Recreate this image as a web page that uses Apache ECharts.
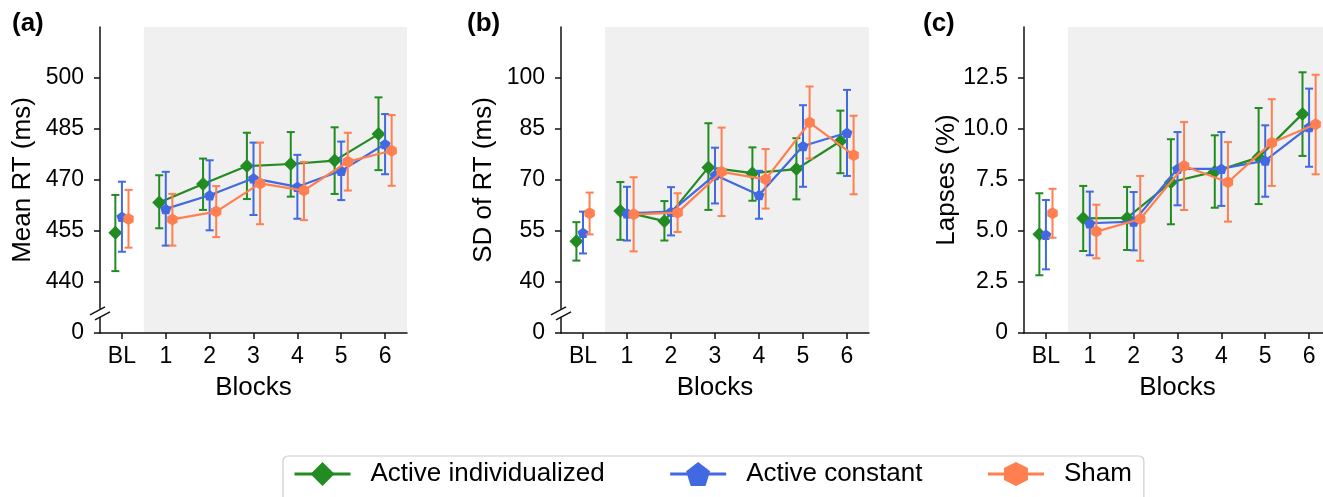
<!DOCTYPE html>
<html>
<head>
<meta charset="utf-8">
<script src="https://cdn.jsdelivr.net/npm/echarts@6/dist/echarts.min.js"></script>
<style>
  html, body { margin: 0; padding: 0; background: #fff; }
  #chart { width: 1323px; height: 497px; }
</style>
</head>
<body>
<div id="chart"></div>
<script>
var blocks = ['BL', '1', '2', '3', '4', '5', '6'];
var groupNames = ['Active individualized', 'Active constant', 'Sham'];
var groupColors = ['#228b22', '#4169e1', '#ff7f50'];

// each entry: [mean, lower, upper]
var rtIndiv = [[454.5, 443.2, 465.6], [463.4, 455.8, 471.4], [468.8, 461.2, 476.3], [474.1, 464.4, 483.9], [474.7, 465.1, 484.1], [475.7, 465.9, 485.5], [483.5, 472.9, 494.3]];
var rtConst = [[459.2, 448.9, 469.5], [461.5, 450.7, 472.4], [465.5, 455.2, 475.8], [470.5, 459.7, 481.0], [468.0, 458.6, 477.4], [472.7, 464.1, 481.3], [480.6, 471.7, 489.4]];
var rtSham = [[458.5, 450.1, 467.1], [458.4, 450.7, 465.9], [460.7, 453.2, 468.2], [469.0, 457.0, 481.0], [466.9, 458.2, 475.3], [475.4, 466.9, 483.9], [478.6, 468.3, 489.1]];

var sdIndiv = [[52.0, 46.3, 57.6], [60.9, 52.4, 69.4], [57.9, 52.2, 63.8], [73.7, 61.2, 86.7], [72.0, 63.9, 79.6], [73.2, 64.3, 82.3], [81.4, 72.0, 90.4]];
var sdConst = [[54.5, 48.4, 60.7], [60.2, 52.2, 68.0], [60.7, 53.7, 67.9], [71.5, 63.1, 79.5], [65.6, 58.6, 72.7], [80.0, 68.0, 92.0], [83.9, 71.2, 96.5]];
var sdSham = [[60.2, 54.0, 66.3], [59.9, 49.0, 70.8], [60.4, 54.7, 66.1], [72.4, 59.4, 85.4], [70.2, 61.6, 79.1], [86.9, 76.3, 97.5], [77.3, 65.8, 88.9]];

var lapIndiv = [[4.84, 2.83, 6.85], [5.62, 4.02, 7.21], [5.64, 4.07, 7.16], [7.39, 5.33, 9.50], [7.91, 6.14, 9.69], [8.61, 6.32, 11.03], [10.74, 8.68, 12.78]];
var lapConst = [[4.82, 3.12, 6.52], [5.38, 3.81, 6.93], [5.46, 4.05, 6.91], [8.05, 6.26, 9.85], [8.05, 6.23, 9.85], [8.45, 6.68, 10.18], [10.10, 8.15, 11.98]];
var lapSham = [[5.87, 4.67, 7.07], [4.97, 3.66, 6.29], [5.59, 3.54, 7.70], [8.19, 6.03, 10.34], [7.39, 5.46, 9.36], [9.33, 7.21, 11.46], [10.23, 7.78, 12.66]];

// y ticks ('0' sits at the broken-axis bottom for panels a and b)
var rtTicks = [425, 440, 455, 470, 485, 500];
var sdTicks = [25, 40, 55, 70, 85, 100];
var lapTicks = [0, 2.5, 5, 7.5, 10, 12.5];

var FONT = '"Liberation Sans", Arial, sans-serif';
var offsets = [-0.15, 0, 0.15];
var symbols = [
  'diamond',
  'path://M50,0 L97.55,34.55 L79.39,90.45 L20.61,90.45 L2.45,34.55 Z',
  'path://M50,0 L93.3,25 L93.3,75 L50,100 L6.7,75 L6.7,25 Z'
];
var symbolSizes = [[14, 14], 11, 12];

var panels = [
  { label: '(a)', labelX: 12, left: 100, width: 307, name: 'Mean RT (ms)', min: 425, max: 515, ticks: rtTicks, broken: true, data: [rtIndiv, rtConst, rtSham] },
  { label: '(b)', labelX: 467, left: 561, width: 308, name: 'SD of RT (ms)', min: 25, max: 115, ticks: sdTicks, broken: true, data: [sdIndiv, sdConst, sdSham] },
  { label: '(c)', labelX: 923, left: 1024, width: 307, name: 'Lapses (%)', min: 0, max: 15, ticks: lapTicks, broken: false, data: [lapIndiv, lapConst, lapSham] }
];

var chart = echarts.init(document.getElementById('chart'));

var grids = [], xAxes = [], yAxes = [], series = [], graphics = [];

function renderShade(params, api) {
  var cs = params.coordSys;
  var p = api.coord([api.value(0), 0]);
  return {
    type: 'rect',
    shape: { x: p[0], y: cs.y, width: cs.x + cs.width - p[0], height: cs.height },
    style: { fill: '#f0f0f0' }
  };
}

function renderErr(params, api) {
  var x = api.value(0);
  var lo = api.coord([x, api.value(1)]);
  var hi = api.coord([x, api.value(2)]);
  var style = { stroke: api.visual('color'), lineWidth: 2 };
  return {
    type: 'group',
    children: [
      { type: 'line', shape: { x1: lo[0], y1: lo[1], x2: hi[0], y2: hi[1] }, style: style },
      { type: 'line', shape: { x1: lo[0] - 4, y1: lo[1], x2: lo[0] + 4, y2: lo[1] }, style: style },
      { type: 'line', shape: { x1: hi[0] - 4, y1: hi[1], x2: hi[0] + 4, y2: hi[1] }, style: style }
    ]
  };
}

panels.forEach(function (p, pi) {
  grids.push({ left: p.left, top: 27, width: p.width, height: 306, outerBoundsMode: 'none', containLabel: false });

  xAxes.push({
    type: 'value', gridIndex: pi, min: -0.5, max: 6.5, z: 10,
    name: 'Blocks', nameLocation: 'middle', nameGap: 42,
    nameTextStyle: { fontFamily: FONT, fontSize: 26, color: '#000' },
    axisLine: { show: true, onZero: false, lineStyle: { color: '#111', width: 1.5 } },
    axisTick: { show: true, length: 6, lineStyle: { color: '#111', width: 1.5 }, customValues: [0, 1, 2, 3, 4, 5, 6] },
    axisLabel: {
      fontFamily: FONT, fontSize: 23, color: '#000', margin: 12,
      customValues: [0, 1, 2, 3, 4, 5, 6],
      formatter: function (v) { return blocks[Math.round(v)]; }
    },
    splitLine: { show: false }
  });

  yAxes.push({
    type: 'value', gridIndex: pi, min: p.min, max: p.max, z: 10,
    name: p.name, nameLocation: 'middle', nameGap: 64,
    nameTextStyle: { fontFamily: FONT, fontSize: 26, color: '#000' },
    axisLine: { show: true, onZero: false, lineStyle: { color: '#111', width: 1.5 } },
    axisTick: { show: true, length: 6, lineStyle: { color: '#111', width: 1.5 }, customValues: p.ticks },
    axisLabel: {
      fontFamily: FONT, fontSize: 23, color: '#000', margin: 16,
      customValues: p.ticks,
      formatter: function (v) {
        if (v === p.min) return '0';
        return p.broken ? String(v) : v.toFixed(1);
      }
    },
    splitLine: { show: false }
  });

  series.push({
    type: 'custom', name: 'shade' + pi, xAxisIndex: pi, yAxisIndex: pi,
    data: [[0.5]], renderItem: renderShade, silent: true, z: 1
  });

  p.data.forEach(function (arr, gi) {
    var off = offsets[gi];
    var lineData = [];
    arr.forEach(function (d, i) {
      lineData.push([i + off, d[0]]);
      if (i === 0) lineData.push([0.5, '-']);
    });
    series.push({
      type: 'line', name: groupNames[gi], xAxisIndex: pi, yAxisIndex: pi,
      data: lineData, connectNulls: false,
      symbol: symbols[gi], symbolSize: symbolSizes[gi], symbolKeepAspect: true,
      showAllSymbol: true,
      itemStyle: { color: groupColors[gi] },
      lineStyle: { color: groupColors[gi], width: 2.2 },
      z: 3 + gi * 2, animation: false
    });
    series.push({
      type: 'custom', name: 'err' + pi + '_' + gi, xAxisIndex: pi, yAxisIndex: pi,
      data: arr.map(function (d, i) { return [i + off, d[1], d[2]]; }),
      encode: { x: 0, y: [1, 2] },
      itemStyle: { color: groupColors[gi] },
      renderItem: renderErr, z: 2 + gi * 2, animation: false
    });
  });

  graphics.push({
    type: 'text', left: p.labelX, top: 11, z: 10,
    style: { text: p.label, font: 'bold 26px ' + FONT, fill: '#000' }
  });
});

chart.setOption({
  animation: false,
  grid: grids,
  xAxis: xAxes,
  yAxis: yAxes,
  legend: {
    data: groupNames,
    left: 283, top: 456,
    orient: 'horizontal',
    itemWidth: 56, itemHeight: 30,
    itemGap: 64,
    padding: [5, 12, 30, 10],
    borderColor: '#cccccc', borderWidth: 1.2, borderRadius: 5,
    lineStyle: { width: 3 },
    textStyle: { fontFamily: FONT, fontSize: 26, color: '#000', padding: [0, 0, 0, 15] }
  },
  graphic: graphics,
  series: series
});

// broken-axis marks on panels a and b
var breaks = [];
panels.forEach(function (p, pi) {
  if (!p.broken) return;
  var pt = chart.convertToPixel({ xAxisIndex: pi, yAxisIndex: pi }, [-0.5, p.min + 6.2]);
  var x = pt[0], y = pt[1];
  breaks.push({ type: 'rect', shape: { x: x - 3, y: y - 3, width: 6, height: 8 }, style: { fill: '#fff' }, z: 20 });
  breaks.push({ type: 'line', shape: { x1: x - 10, y1: y + 3, x2: x + 5, y2: y - 5 }, style: { stroke: '#111', lineWidth: 1.5 }, z: 21 });
  breaks.push({ type: 'line', shape: { x1: x - 5, y1: y + 8, x2: x + 10, y2: y }, style: { stroke: '#111', lineWidth: 1.5 }, z: 21 });
});
chart.setOption({ graphic: graphics.concat(breaks) });
</script>
</body>
</html>
